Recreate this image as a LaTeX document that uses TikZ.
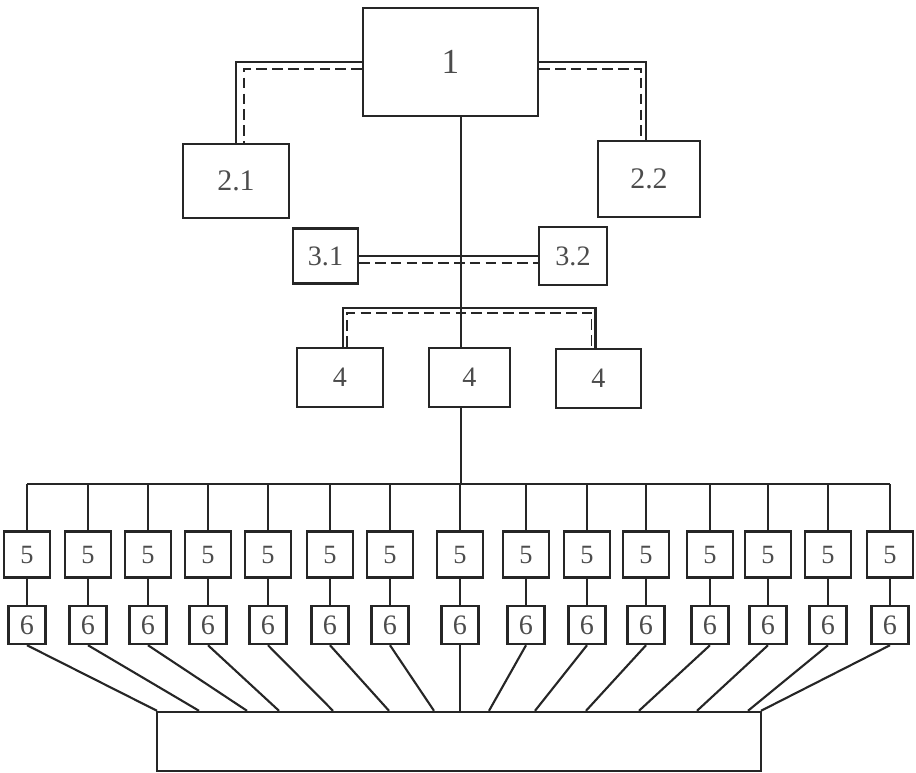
\documentclass[tikz,border=0pt]{standalone}
\usepackage{fontspec}
\setmainfont{Liberation Serif}
\usetikzlibrary{calc}

\begin{document}
\begin{tikzpicture}[x=0.02cm, y=-0.02cm,
    box/.style={draw=black!85, line width=1.4pt, inner sep=0pt, text=black!70},
    link/.style={draw=black!85, line width=1.2pt},
    dlink/.style={draw=black!85, line width=0.9pt, dash pattern=on 6pt off 3pt}]
  \useasboundingbox (0,0) rectangle (916,772);

  % upper levels
  \node[box, minimum width=3.5cm, minimum height=2.16cm, font=\fontsize{20}{20}\selectfont] (b1) at (450.5,62) {1};
  \node[box, minimum width=2.12cm, minimum height=1.48cm, font=\fontsize{17}{17}\selectfont] (b21) at (236,181) {2.1};
  \node[box, minimum width=2.04cm, minimum height=1.52cm, font=\fontsize{17}{17}\selectfont] (b22) at (649,179) {2.2};
  \node[box, minimum width=1.3cm, minimum height=1.1cm, font=\fontsize{16}{16}\selectfont] (b31) at (325.5,256) {3.1};
  \node[box, minimum width=1.36cm, minimum height=1.16cm, font=\fontsize{16}{16}\selectfont] (b32) at (573,256) {3.2};
  \node[box, minimum width=1.72cm, minimum height=1.18cm, font=\fontsize{16}{16}\selectfont] (b4l) at (340,377.5) {4};
  \node[box, minimum width=1.62cm, minimum height=1.18cm, font=\fontsize{16}{16}\selectfont] (b4m) at (469.5,377.5) {4};
  \node[box, minimum width=1.7cm, minimum height=1.18cm, font=\fontsize{16}{16}\selectfont] (b4r) at (598.5,378.5) {4};

  \coordinate (trunk) at (461,0);
  \coordinate (j4) at (461,308);
  \coordinate (bus) at (461,484);

  % double links
  \draw[link] (b1.west) -| (b21.north);
  \draw[dlink] ([yshift=-0.14cm]b1.west) -| ([xshift=0.16cm]b21.north);
  \draw[link] (b1.east) -| ([xshift=-0.06cm]b22.north);
  \draw[dlink] ([yshift=-0.14cm]b1.east) -| ([xshift=-0.16cm]b22.north);
  \draw[link] (b31.east) -- (b32.west);
  \draw[dlink] ([yshift=-0.14cm]b31.east) -- ([yshift=-0.14cm]b32.west);
  \draw[link] ([xshift=0.06cm]b4l.north) |- (j4) -| ([xshift=-0.06cm]b4r.north);
  \draw[dlink] ([xshift=0.14cm]b4l.north) |- ($(j4)+(0,5)$) -| ([xshift=-0.14cm]b4r.north);

  % trunk
  \draw[link] (b1.south -| trunk) -- (b4m.north -| trunk);
  \draw[link] (b4m.south -| trunk) -- (bus);

  % lower levels
  \node[box, minimum width=12.08cm, minimum height=1.18cm] (base) at (459,741.5) {};
  \foreach \x/\e [count=\i] in {27/157, 88/199, 148/247, 208/279, 268/333, 330/389, 390/434, 460/460, 526/489, 587/535, 646/586, 710/639, 768/697, 828/748, 890/761} {
    \node[box, minimum width=0.92cm, minimum height=0.92cm, font=\fontsize{15}{15}\selectfont] (b5-\i) at (\x,554.5) {5};
    \node[box, minimum width=0.74cm, minimum height=0.76cm, font=\fontsize{16}{16}\selectfont] (b6-\i) at (\x,625) {6};
    \coordinate (e\i) at (\e,0);
    \draw[link] (b5-\i.north) -- (b5-\i.north |- bus);
    \draw[link] (b5-\i.south) -- (b6-\i.north);
    \draw[link] (b6-\i.south) -- (base.north -| e\i);
  }
  \draw[link] (b5-1.north |- bus) -- (b5-15.north |- bus);
\end{tikzpicture}
\end{document}
